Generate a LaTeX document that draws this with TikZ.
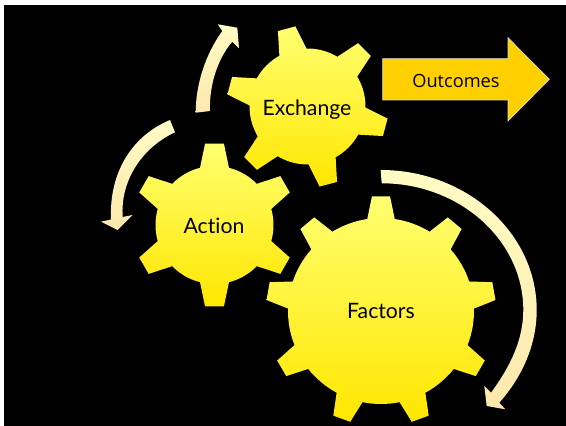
\documentclass[tikz,border=0pt]{standalone}
\usepackage{fontspec}
\setmainfont{Lato}[Ligatures=NoCommon]
\newfontfamily\outfont{Open Sans}
\definecolor{gearTop}{RGB}{255,255,112}
\definecolor{gearBot}{RGB}{255,230,0}
\definecolor{bandBot}{RGB}{253,232,172}
\definecolor{bandTop}{RGB}{255,252,196}
\definecolor{outFill}{RGB}{255,208,0}
\tikzset{
  gearfill/.style={top color=gearTop,bottom color=gearBot,draw=none},
  bandfill/.style={top color=bandTop,bottom color=bandBot,draw=none},
  gearlabel/.style={font=\fontsize{21.2}{24}\selectfont,text=black,inner sep=0pt,anchor=base},
  outlabel/.style={font=\outfont\fontsize{18.2}{20}\selectfont,text=black,inner sep=0pt,anchor=base},
  pixels/.style={x=1pt,y=-1pt,yshift=426pt}
}
% gear: cx, cy (pixels from top), circle radius, tip radius, teeth, first angle, half base angle, half tip angle
\newcommand{\gearshape}[8]{%
  \pgfmathtruncatemacro{\lastk}{#5-1}%
  \pgfmathsetmacro{\stepang}{360/#5}%
  \path[gearfill,xshift=#1pt,yshift=426pt-#2pt]
    ({#6+#7}:#3pt)
    \foreach \k [evaluate=\k as \ang using {#6-\k*\stepang}] in {0,...,\lastk}{
      -- ({\ang+#8}:#4pt) -- ({\ang-#8}:#4pt) -- ({\ang-#7}:#3pt)
      arc[start angle={\ang-#7},end angle={\ang-\stepang+#7},radius=#3pt]
    } -- cycle;%
}
\begin{document}
\begin{tikzpicture}[x=1pt,y=1pt]
\useasboundingbox (0,0) rectangle (566,426);
\fill[white] (0,0) rectangle (566,426);
\fill[black] (4,0) rectangle (566,421);

\gearshape{307.5}{106.5}{58}{81}{6}{105}{14}{6.4}
\gearshape{214.5}{225}{59}{82}{6}{90}{14.2}{6.6}
\gearshape{381}{311}{93}{115}{9}{90}{8.5}{4.5}

\begin{scope}[pixels]
\path[bandfill]
  (195.7,112.7) .. controls (195.7,85) and (205,55) .. (222.3,31)
  -- (217.7,24.3) -- (237.3,27.7) -- (239,48.3) -- (232.3,41.7)
  .. controls (218,58) and (209,85) .. (210,111)
  -- cycle;
\path[bandfill]
  (170,120) .. controls (134,135) and (109,170) .. (111,219.5)
  -- (101,221.7) -- (117.7,230) -- (132.7,215) -- (122.7,217)
  .. controls (120,180) and (143,147) .. (175,132.3)
  -- cycle;
\path[bandfill]
  (380.7,170) .. controls (466.5,170) and (536.7,233) .. (536.7,310)
  .. controls (536.7,345) and (522,377) .. (499.3,402.7)
  -- (505.3,409.3) -- (486.7,406) -- (484.3,386) -- (491,392.7)
  .. controls (510,367) and (523.3,340) .. (523.3,310)
  .. controls (523.3,240.3) and (459.6,183.3) .. (381.7,183.3)
  -- cycle;
\draw[draw=white!85!black,line width=0.7pt,fill=outFill]
  (382.7,58.7) -- (508,58.7) -- (508,37.7) -- (549.3,79.3) -- (508,121) -- (508,100) -- (382.7,100) -- cycle;
\node[gearlabel] (exchange) at (307,116) {Exchange};
\node[gearlabel] (action) at (214,234) {Action};
\node[gearlabel] (factors) at (381,319) {Factors};
\node[outlabel] (outcomes) at (456,88) {Outcomes};
\end{scope}
\end{tikzpicture}
\end{document}
